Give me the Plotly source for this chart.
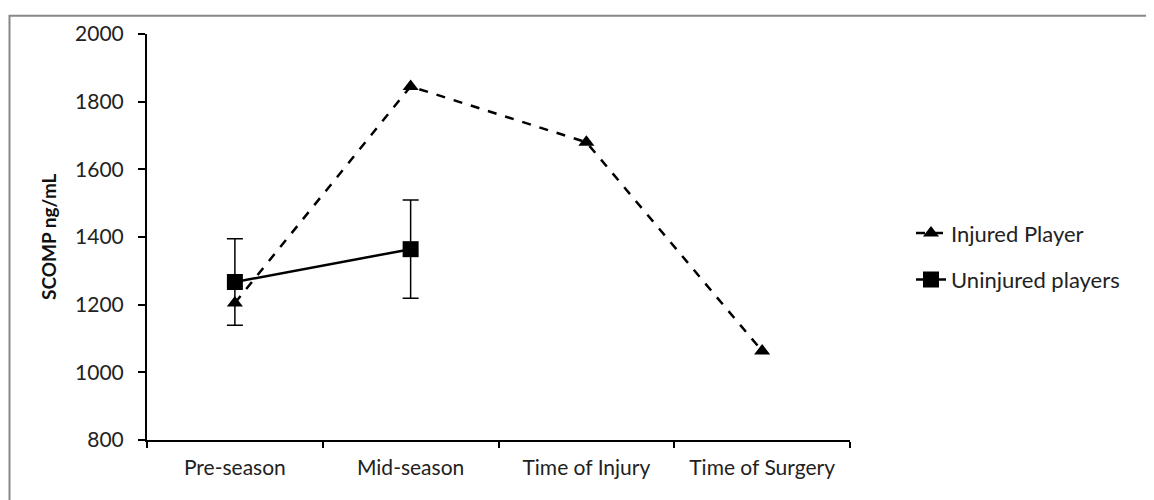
import plotly.graph_objects as go

categories = ["Pre-season", "Mid-season", "Time of Injury", "Time of Surgery"]
injured = [1205, 1845, 1680, 1063]
uninjured_cats = ["Pre-season", "Mid-season"]
uninjured = [1267, 1364]
uninjured_err = [128, 145]
y_ticks = [800, 1000, 1200, 1400, 1600, 1800, 2000]

FONT = "Lato, Open Sans, sans-serif"
FS = 21

fig = go.Figure()
fig.add_trace(go.Scatter(
    x=categories, y=injured, name="Injured Player", mode="lines+markers",
    legendgroup="a",
    line=dict(color="black", width=2.5, dash="dash"),
    marker=dict(symbol="triangle-up", size=14, color="black"),
))
fig.add_trace(go.Scatter(
    x=uninjured_cats, y=uninjured, name="Uninjured players", mode="lines+markers",
    legendgroup="b",
    line=dict(color="black", width=2.5),
    marker=dict(symbol="square", size=16, color="black"),
    error_y=dict(type="data", array=uninjured_err, visible=True,
                 color="black", thickness=1.5, width=8),
))

# page body has an 8px margin; figure coords = screen - 8
W, H = 1154, 500
L, T = 139, 20
pw, ph = 703, 412
R = W - L - pw
B = H - T - ph

fig.update_layout(
    width=W, height=H,
    margin=dict(l=L, r=R, t=T, b=B),
    paper_bgcolor="white", plot_bgcolor="white",
    font=dict(family=FONT, size=FS, color="#222"),
    showlegend=True,
    legend=dict(x=(903 - L) / pw, xanchor="left", y=(T + ph - 246) / ph, yanchor="middle",
                font=dict(size=FS + 1, family=FONT, color="#222"), tracegroupgap=15,
                traceorder="grouped", bgcolor="rgba(0,0,0,0)"),
    xaxis=dict(type="category", categoryarray=categories, range=[-0.5, 3.5],
               showline=True, linecolor="black", linewidth=2,
               ticks="outside", tickson="boundaries", ticklen=6, tickcolor="black", tickwidth=2,
               ticklabelstandoff=8,
               showgrid=False, zeroline=False, tickfont=dict(size=FS, family=FONT, color="#222")),
    yaxis=dict(range=[800, 2000], tickvals=y_ticks,
               showline=True, linecolor="black", linewidth=2,
               ticks="outside", ticklen=7, tickcolor="black", tickwidth=2,
               ticklabelstandoff=10,
               showgrid=False, zeroline=False, tickfont=dict(size=FS, family=FONT, color="#222")),
    shapes=[dict(type="rect", xref="paper", yref="paper",
                 x0=(1.5 - L) / pw, x1=(W + 10 - L) / pw,
                 y0=(T + ph - (H + 10)) / ph, y1=(T + ph - 1.5) / ph,
                 line=dict(color="#888", width=2), fillcolor="rgba(0,0,0,0)", layer="below")],
    annotations=[dict(text="<b>SCOMP ng/mL</b>", xref="paper", yref="paper",
                      x=(40 - L) / pw, y=0.5, xanchor="center", yanchor="middle",
                      textangle=-90, showarrow=False,
                      font=dict(size=19, family=FONT, color="#111"))],
)

fig.write_html("out.html")
